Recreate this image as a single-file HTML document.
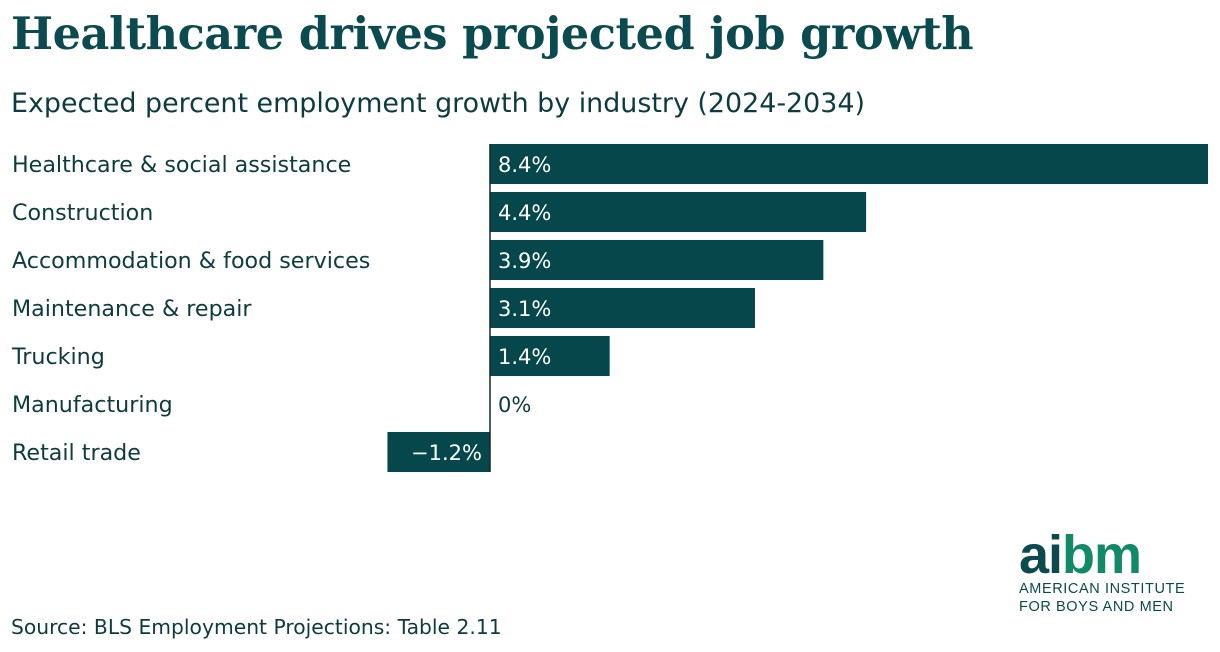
<!DOCTYPE html>
<html><head><meta charset="utf-8"><style>
body{margin:0;width:1220px;height:652px;background:#fff;overflow:hidden;font-family:"DejaVu Sans",sans-serif;color:#0d3b40}
#title{position:absolute;left:11px;top:8px;font-family:"DejaVu Serif",serif;font-weight:bold;font-size:44.5px;color:#0b4a4e;margin:0;letter-spacing:-0.4px}
#sub{position:absolute;left:11px;top:88px;font-size:26.9px;color:#0d3b40}
#src{position:absolute;left:11px;top:615px;font-size:20.3px;color:#0d3b40}
#logo{position:absolute;left:1019px;top:532px}
</style></head><body>
<h1 id="title">Healthcare drives projected job growth</h1>
<div id="sub">Expected percent employment growth by industry (2024-2034)</div>
<svg id="chart" width="1220" height="652" style="position:absolute;left:0;top:0"></svg>
<div id="src">Source: BLS Employment Projections: Table 2.11</div>
<div id="logo">
<div style="font-family:'Liberation Sans',sans-serif;font-weight:bold;font-size:54px;line-height:46px;letter-spacing:-1px"><span style="color:#0b4a4e">ai</span><span style="color:#128a68">bm</span></div>
<div style="font-family:'Liberation Sans',sans-serif;font-size:14.5px;line-height:18px;letter-spacing:0.6px;color:#0b4a4e;margin-top:2px">AMERICAN INSTITUTE<br>FOR BOYS AND MEN</div>
</div>
<script>
const categories=["Healthcare & social assistance","Construction","Accommodation & food services","Maintenance & repair","Trucking","Manufacturing","Retail trade"];
const values=[8.4,4.4,3.9,3.1,1.4,0,-1.2];
const labels=["8.4%","4.4%","3.9%","3.1%","1.4%","0%","\u22121.2%"];
const svg=document.getElementById('chart');const NS="http://www.w3.org/2000/svg";
const x0=490,scale=718/8.4,top0=144,pitch=48,bh=40;
const xs=v=>x0+v*scale;
function mk(t,a){const e=document.createElementNS(NS,t);for(const k in a)e.setAttribute(k,a[k]);svg.appendChild(e);return e;}
categories.forEach((c,i)=>{
 const y=top0+i*pitch,v=values[i];
 const lab=mk('text',{x:12,y:y+bh/2+8,'font-size':22.2,fill:'#0d3b40'});lab.textContent=c;
 
 
 const x1=Math.min(xs(0),xs(v)),w=Math.abs(xs(v)-xs(0));
 const r=mk('rect',{x:x1,y:y,width:w,height:bh,fill:'#06474c'});
 
 
 const inside=w>50;
 const t=mk('text',{x:v<0?xs(0)-8:xs(0)+8,y:y+bh/2+8,'font-size':21,fill:inside?'#fff':'#0d3b40','text-anchor':v<0?'end':'start'});
 t.textContent=labels[i];
 
 
});
const ax=mk('line',{x1:x0,x2:x0,y1:top0,y2:top0+categories.length*pitch-8,stroke:'#0d2a2d','stroke-width':1.5});


</script>
</body></html>
